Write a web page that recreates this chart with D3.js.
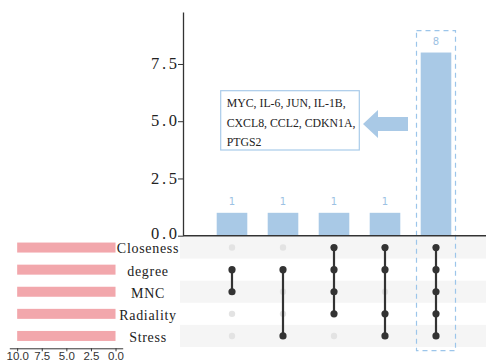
<!DOCTYPE html>
<html>
<head>
<meta charset="utf-8">
<script src="https://cdn.jsdelivr.net/npm/d3@7"></script>
<style>
  body { margin: 0; background: white; }
  svg { display: block; }
</style>
</head>
<body>
<div id="graph"></div>
<script>
// data
const sets = ["Closeness", "degree", "MNC", "Radiality", "Stress"];
const setSizes = [10, 10, 10, 10, 10];
const intersections = ["c1", "c2", "c3", "c4", "c5"];
const intersectionSizes = [1, 1, 1, 1, 8];
const memberships = [
  ["degree", "MNC"],
  ["degree", "Stress"],
  ["Closeness", "degree", "MNC", "Radiality"],
  ["Closeness", "degree", "Radiality", "Stress"],
  ["Closeness", "degree", "MNC", "Radiality", "Stress"]
];
const yTicks = [0, 2.5, 5, 7.5];
const setTicks = [10, 7.5, 5, 2.5, 0];
const geneLines = ["MYC, IL-6, JUN, IL-1B,", "CXCL8, CCL2, CDKN1A,", "PTGS2"];

const width = 486, height = 361;
const barBlue = "#a9c9e6", pink = "#f2a7ac", dark = "#333333";
const serif = "'Liberation Serif', 'DejaVu Serif', serif";

const svg = d3.select("#graph").append("svg")
  .attr("width", width).attr("height", height);

const x = d3.scaleBand().domain(intersections).range([196.3, 471.7]).padding(0.4);
const y = d3.scaleLinear().domain([0, 9.77]).range([235.7, 12]);
const rowY = d3.scaleBand().domain(sets).range([236.5, 347]);
const setX = d3.scaleLinear().domain([10.8, -0.73]).range([9.3, 122.7]);

// matrix stripes
svg.append("g").selectAll("rect").data(sets.filter((d, i) => i % 2 === 0))
  .join("rect")
  .attr("x", 180).attr("width", 306)
  .attr("y", d => rowY(d)).attr("height", rowY.bandwidth())
  .attr("fill", "#f5f5f5");

// highlight box around the big intersection
const hx = x("c5") + x.bandwidth() / 2;
svg.append("rect")
  .attr("x", hx - 19.5).attr("width", 39)
  .attr("y", 30.7).attr("height", 350.7 - 30.7)
  .attr("fill", "none")
  .attr("stroke", "#9cc5ea").attr("stroke-width", 1.2)
  .attr("stroke-dasharray", "5,4");

// intersection bars
svg.append("g").selectAll("rect").data(intersectionSizes)
  .join("rect")
  .attr("x", (d, i) => x(intersections[i]))
  .attr("width", x.bandwidth())
  .attr("y", d => y(d))
  .attr("height", d => y(0) - y(d))
  .attr("fill", barBlue);

svg.append("g").selectAll("text").data(intersectionSizes)
  .join("text")
  .attr("x", (d, i) => x(intersections[i]) + x.bandwidth() / 2)
  .attr("y", d => y(d) - 7.5)
  .attr("text-anchor", "middle")
  .attr("font-family", "'DejaVu Sans', sans-serif")
  .attr("font-size", 10)
  .attr("fill", "#9cc1e3")
  .text(d => d);

// y axis
const yAxis = svg.append("g")
  .attr("transform", "translate(183,0)")
  .call(d3.axisLeft(y).tickValues(yTicks).tickFormat(d3.format(".1f")).tickSize(5).tickSizeOuter(0));
yAxis.select(".domain").attr("stroke", dark).attr("stroke-width", 1.3);
yAxis.selectAll(".tick line").attr("stroke", dark);
yAxis.selectAll(".tick text")
  .attr("font-family", serif).attr("font-size", 16.5)
  .attr("letter-spacing", 2.6).attr("fill", "#222").attr("x", -3.5)
  .attr("dy", d => d === 0 ? "0.18em" : "0.28em");

// baseline
svg.append("line")
  .attr("x1", 183).attr("x2", 486)
  .attr("y1", y(0)).attr("y2", y(0))
  .attr("stroke", dark).attr("stroke-width", 1.5);

// matrix dots and connecting lines
const colCenter = i => x(intersections[i]) + x.bandwidth() / 2;
const rowCenter = s => rowY(s) + rowY.bandwidth() / 2;

intersections.forEach((c, i) => {
  const g = svg.append("g");
  g.selectAll("circle.off").data(sets.filter(s => !memberships[i].includes(s)))
    .join("circle")
    .attr("cx", colCenter(i)).attr("cy", rowCenter)
    .attr("r", 3.2).attr("fill", "#e3e3e3");
  const ys = memberships[i].map(rowCenter);
  g.append("line")
    .attr("x1", colCenter(i)).attr("x2", colCenter(i))
    .attr("y1", d3.min(ys)).attr("y2", d3.max(ys))
    .attr("stroke", dark).attr("stroke-width", 2.2);
  g.selectAll("circle.on").data(memberships[i])
    .join("circle")
    .attr("cx", colCenter(i)).attr("cy", rowCenter)
    .attr("r", 3.6).attr("fill", dark);
});

// set size bars
svg.append("g").selectAll("rect").data(setSizes)
  .join("rect")
  .attr("x", d => setX(d))
  .attr("width", d => setX(0) - setX(d))
  .attr("y", (d, i) => rowCenter(sets[i]) - 5)
  .attr("height", 10)
  .attr("fill", pink);

svg.append("g").selectAll("text").data(sets)
  .join("text")
  .attr("x", 148)
  .attr("y", d => rowCenter(d) + 1)
  .attr("dy", "0.35em")
  .attr("text-anchor", "middle")
  .attr("font-family", serif).attr("font-size", 14)
  .attr("letter-spacing", 0.7)
  .attr("fill", "#222")
  .text(d => d);

const sAxis = svg.append("g")
  .attr("transform", "translate(0,348.3)")
  .call(d3.axisBottom(setX).tickValues(setTicks).tickFormat(d3.format(".1f")).tickSize(3).tickSizeOuter(0));
sAxis.select(".domain").attr("stroke", dark);
sAxis.selectAll(".tick line").attr("stroke", dark);
sAxis.selectAll(".tick text")
  .attr("font-family", "'Liberation Sans', Arial, sans-serif").attr("font-size", 11.5)
  .attr("fill", "#333").attr("y", 3.5);

// annotation box + arrow
svg.append("rect")
  .attr("x", 220.7).attr("y", 90.7).attr("width", 138.6).attr("height", 59.3)
  .attr("fill", "white").attr("stroke", "#a9cbe9").attr("stroke-width", 1.2);

svg.append("g").selectAll("text").data(geneLines)
  .join("text")
  .attr("x", 226.7)
  .attr("y", (d, i) => 107 + i * 19.5)
  .attr("font-family", serif).attr("font-size", 11.8)
  .attr("fill", "#222")
  .text(d => d);

const arrowY = 124;
svg.append("path")
  .attr("d", d3.line()([
    [363, arrowY], [378, arrowY - 14], [378, arrowY - 7], [408, arrowY - 7],
    [408, arrowY + 7], [378, arrowY + 7], [378, arrowY + 14]
  ]) + "Z")
  .attr("fill", barBlue);
</script>
</body>
</html>
